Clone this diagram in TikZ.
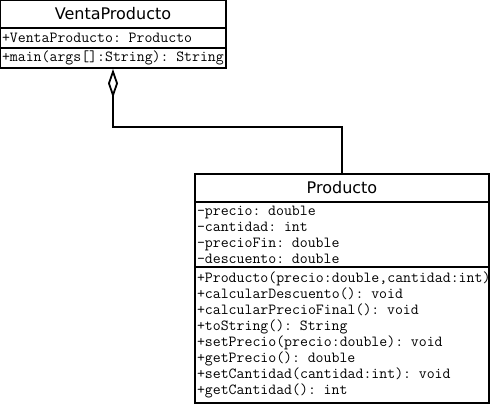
\documentclass[tikz,border=0pt]{standalone}
\usepackage{fontspec}
\newfontfamily\titlefont{DejaVu Sans}
\usetikzlibrary{arrows.meta}
\begin{document}
\begin{tikzpicture} [x=1pt, y=-1pt, line width=1.8pt]
\tikzstyle{every node}=[draw, shape=rectangle, inner ysep=0pt, inner xsep=2pt];
\tikzstyle{title}=[font=\titlefont\fontsize{16}{19}\selectfont, minimum height=28pt];
\tikzstyle{members}=[font=\ttfamily\fontsize{15.4}{16}\selectfont, align=left];
\tikzstyle{aggr}=[-{Diamond[open, length=29pt, width=10pt]}];
\useasboundingbox (0,0) rectangle (491,404);
\node[title, minimum width=226pt] (vtitle) at (113,14) {VentaProducto};
\node[members, minimum width=226pt, minimum height=20pt, text width=222pt] (vattr) at (113,38) {+VentaProducto: Producto};
\node[members, minimum width=226pt, minimum height=20pt, text width=222pt] (vmeth) at (113,58) {\mbox{+main(args[]:String): String}};
\node[title, minimum width=294pt] (ptitle) at (342,188) {Producto};
\node[members, minimum width=294pt, minimum height=65pt, text width=290pt] (pattr) at (342,234.5) {-precio: double\\
-cantidad: int\\
-precioFin: double\\
-descuento: double};
\node[members, minimum width=294pt, minimum height=136pt, text width=290pt] (pmeth) at (342,335) {+Producto(precio:double,cantidad:int)\\
+calcularDescuento(): void\\
+calcularPrecioFinal(): void\\
+toString(): String\\
+setPrecio(precio:double): void\\
+getPrecio(): double\\
+setCantidad(cantidad:int): void\\
+getCantidad(): int};
\draw[aggr] (ptitle.north) -- ++(0,-46) -| (vmeth.south);
\end{tikzpicture}
\end{document}
